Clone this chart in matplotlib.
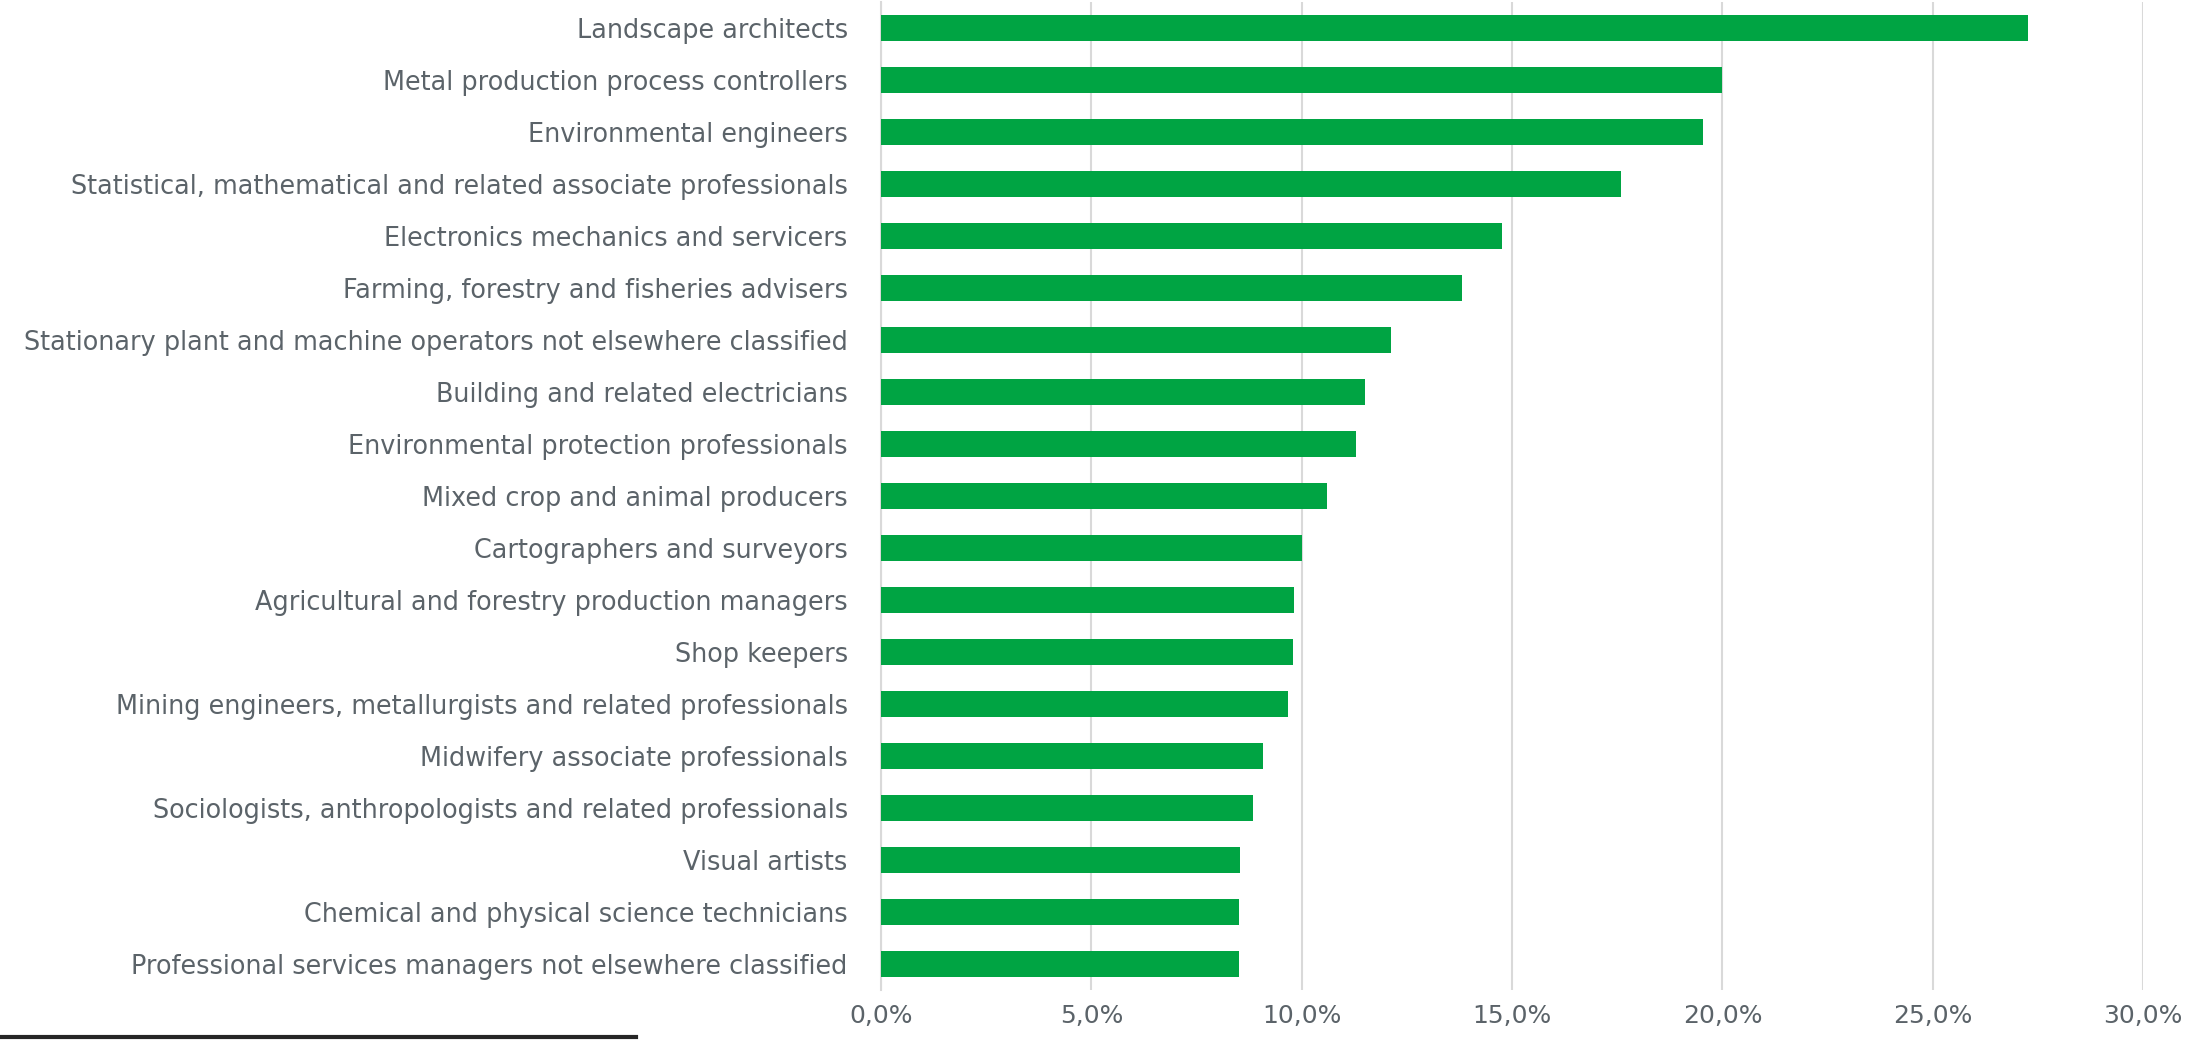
import matplotlib
matplotlib.use("Agg")
import matplotlib.pyplot as plt
from matplotlib.lines import Line2D
from matplotlib.ticker import FuncFormatter

categories = [
    "Landscape architects",
    "Metal production process controllers",
    "Environmental engineers",
    "Statistical, mathematical and related associate professionals",
    "Electronics mechanics and servicers",
    "Farming, forestry and fisheries advisers",
    "Stationary plant and machine operators not elsewhere classified",
    "Building and related electricians",
    "Environmental protection professionals",
    "Mixed crop and animal producers",
    "Cartographers and surveyors",
    "Agricultural and forestry production managers",
    "Shop keepers",
    "Mining engineers, metallurgists and related professionals",
    "Midwifery associate professionals",
    "Sociologists, anthropologists and related professionals",
    "Visual artists",
    "Chemical and physical science technicians",
    "Professional services managers not elsewhere classified",
]
values = [27.26, 20.0, 19.55, 17.59, 14.76, 13.80, 12.12, 11.50, 11.28, 10.60,
          10.0, 9.81, 9.79, 9.68, 9.08, 8.85, 8.53, 8.50, 8.50]
x_ticks = [0, 5, 10, 15, 20, 25, 30]

TEXT = "#5b6369"
plt.rcParams["font.family"] = ["DejaVu Sans"]

fig = plt.figure(figsize=(22.03, 10.44), dpi=100)
ax = fig.add_axes([0.3999, 0.0517, 0.5729, 0.9463])

y = list(range(len(categories)))
ax.barh(y, values, height=0.5, color="#00A443", zorder=3)
ax.set_yticks(y)
ax.set_yticklabels(categories, fontsize=18.4, color=TEXT)
ax.set_ylim(len(categories) - 0.5, -0.5)
ax.set_xlim(0, 30)
ax.set_xticks(x_ticks)
ax.xaxis.set_major_formatter(FuncFormatter(lambda v, p: f"{v:.1f}%".replace(".", ",")))
ax.tick_params(axis="x", length=0, labelsize=18, labelcolor=TEXT, pad=10)
ax.tick_params(axis="y", length=0, pad=24)
ax.grid(axis="x", color="#d9d9d9", linewidth=1.5, zorder=0)
for s in ["top", "right", "bottom"]:
    ax.spines[s].set_visible(False)
ax.spines["left"].set_color("#d9d9d9")
ax.spines["left"].set_linewidth(1.5)

fig.add_artist(Line2D([0, 636 / 2203], [1 - 1037 / 1044] * 2,
                      transform=fig.transFigure, color="#262626", linewidth=3))

fig.savefig("out.png", dpi=100)
